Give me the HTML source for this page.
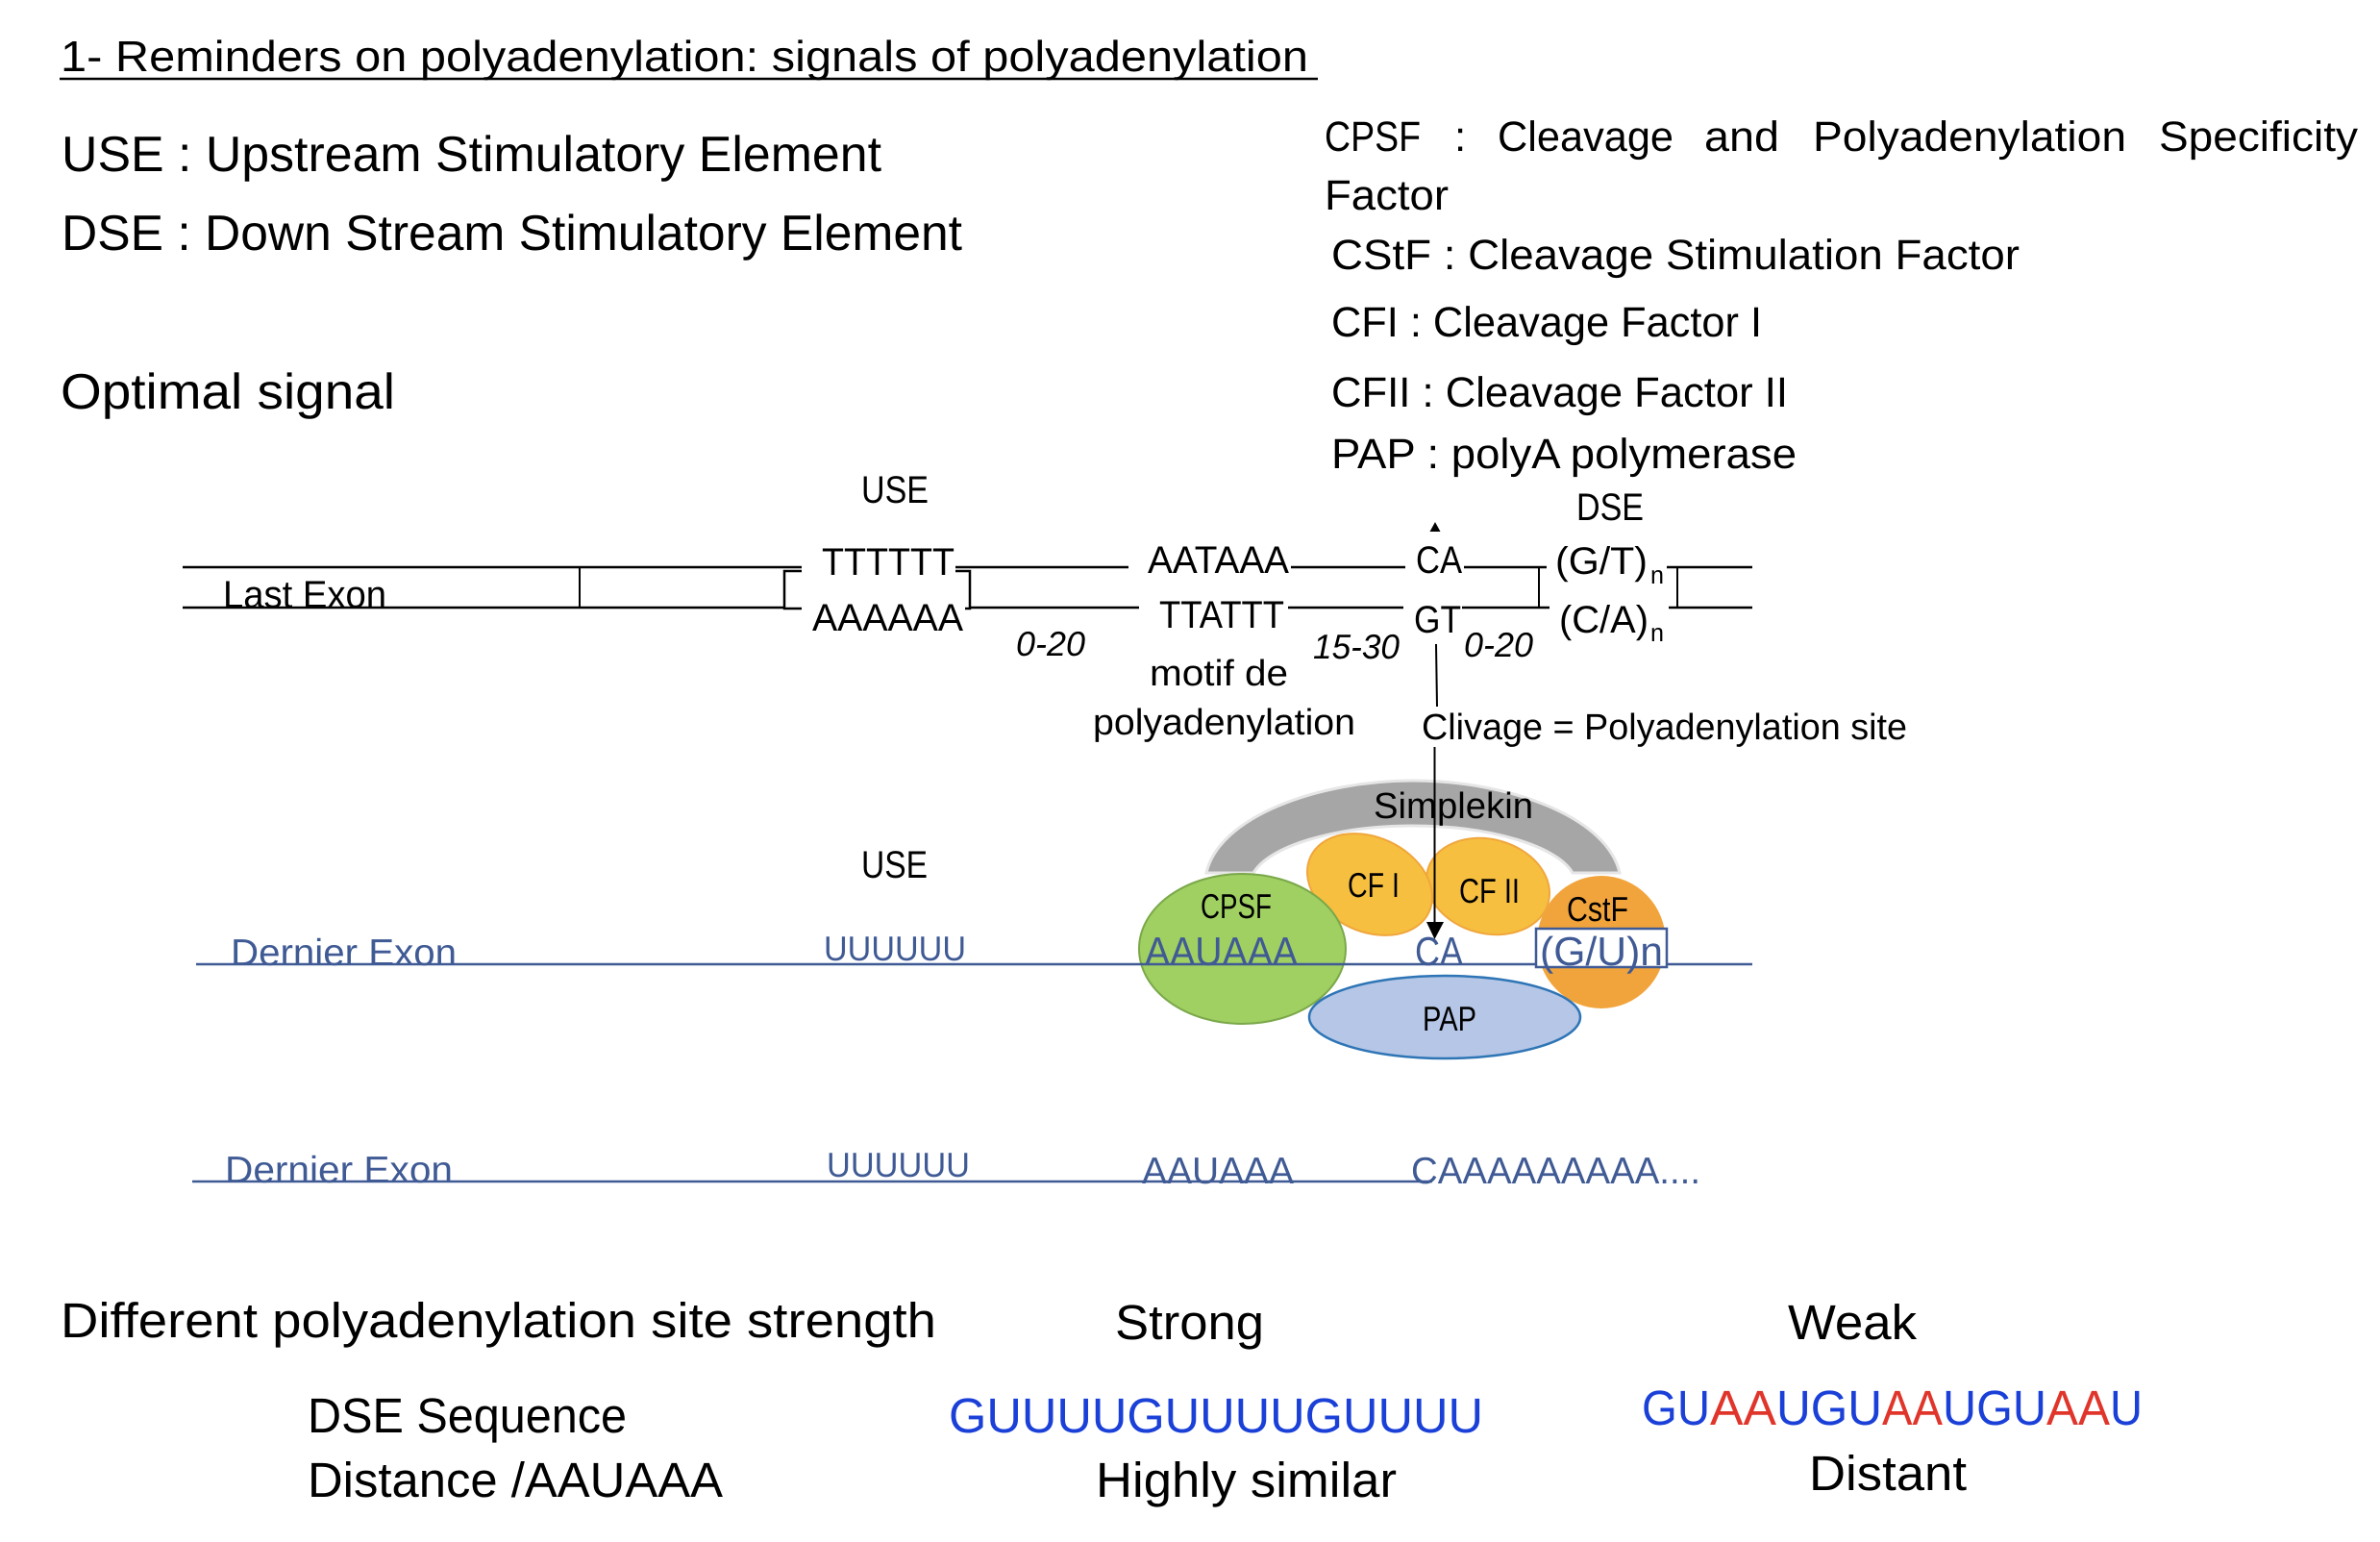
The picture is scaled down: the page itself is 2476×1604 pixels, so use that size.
<!DOCTYPE html>
<html>
<head>
<meta charset="utf-8">
<style>
html,body{margin:0;padding:0;background:#fff}
svg{display:block}
text{font-family:"Liberation Sans",sans-serif;fill:#000;text-rendering:geometricPrecision}
.b{fill:#3f5a94}
.g{fill:#1a40d8}
.r{fill:#e0352b}
.i{font-style:italic}
</style>
</head>
<body>
<svg xmlns="http://www.w3.org/2000/svg" width="2476" height="1604" viewBox="0 0 2476 1604">
<rect width="2476" height="1604" fill="#fff"/>

<!-- header -->
<text x="63" y="74" font-size="45" textLength="1298" lengthAdjust="spacingAndGlyphs">1- Reminders on polyadenylation: signals of polyadenylation</text>
<line x1="62" y1="82" x2="1371" y2="82" stroke="#000" stroke-width="2.5"/>
<text x="64" y="178" font-size="52" textLength="853" lengthAdjust="spacingAndGlyphs">USE : Upstream Stimulatory Element</text>
<text x="64" y="260" font-size="52" textLength="937" lengthAdjust="spacingAndGlyphs">DSE : Down Stream Stimulatory Element</text>
<text x="63" y="425" font-size="52" textLength="348" lengthAdjust="spacingAndGlyphs">Optimal signal</text>

<!-- legend -->
<text x="1378" y="157" font-size="44" textLength="100" lengthAdjust="spacingAndGlyphs">CPSF</text>
<text x="1513" y="157" font-size="44">:</text>
<text x="1558" y="157" font-size="44" textLength="183" lengthAdjust="spacingAndGlyphs">Cleavage</text>
<text x="1773" y="157" font-size="44" textLength="78" lengthAdjust="spacingAndGlyphs">and</text>
<text x="1886" y="157" font-size="44" textLength="326" lengthAdjust="spacingAndGlyphs">Polyadenylation</text>
<text x="2246" y="157" font-size="44" textLength="207" lengthAdjust="spacingAndGlyphs">Specificity</text>
<text x="1378" y="218" font-size="44" textLength="129" lengthAdjust="spacingAndGlyphs">Factor</text>
<text x="1385" y="280" font-size="44" textLength="716" lengthAdjust="spacingAndGlyphs">CStF  : Cleavage Stimulation Factor</text>
<text x="1385" y="350" font-size="44" textLength="448" lengthAdjust="spacingAndGlyphs">CFI : Cleavage Factor I</text>
<text x="1385" y="423" font-size="44" textLength="475" lengthAdjust="spacingAndGlyphs">CFII : Cleavage Factor II</text>
<text x="1385" y="487" font-size="44" textLength="484" lengthAdjust="spacingAndGlyphs">PAP : polyA polymerase</text>

<!-- DNA schematic lines -->
<g stroke="#000" stroke-width="2.5" fill="none">
<line x1="190" y1="590" x2="834" y2="590"/>
<line x1="190" y1="632" x2="816" y2="632"/>
<line x1="603" y1="590" x2="603" y2="632" stroke-width="2"/>
<polyline points="834,594 816,594 816,633 834,633"/>
<polyline points="994,594 1009,594 1009,633 1004,633"/>
<line x1="994" y1="590" x2="1174" y2="590"/>
<line x1="1009" y1="632" x2="1185" y2="632"/>
<line x1="1343" y1="590" x2="1462" y2="590"/>
<line x1="1340" y1="632" x2="1460" y2="632"/>
<line x1="1523" y1="590" x2="1609" y2="590"/>
<line x1="1521" y1="632" x2="1612" y2="632"/>
<line x1="1601" y1="590" x2="1601" y2="632" stroke-width="2"/>
<line x1="1734" y1="590" x2="1823" y2="590"/>
<line x1="1736" y1="632" x2="1823" y2="632"/>
<line x1="1745" y1="590" x2="1745" y2="632" stroke-width="2"/>
</g>

<text x="232" y="632" font-size="40" textLength="170" lengthAdjust="spacingAndGlyphs">Last Exon</text>
<text x="896" y="523" font-size="40" textLength="70" lengthAdjust="spacingAndGlyphs">USE</text>
<text x="855" y="598" font-size="40" textLength="138" lengthAdjust="spacingAndGlyphs">TTTTTT</text>
<text x="845" y="656" font-size="40" textLength="157" lengthAdjust="spacingAndGlyphs">AAAAAA</text>
<text x="1194" y="596" font-size="40" textLength="147" lengthAdjust="spacingAndGlyphs">AATAAA</text>
<text x="1206" y="653" font-size="40" textLength="130" lengthAdjust="spacingAndGlyphs">TTATTT</text>
<text x="1473" y="596" font-size="40" textLength="48" lengthAdjust="spacingAndGlyphs">CA</text>
<text x="1471" y="658" font-size="40" textLength="49" lengthAdjust="spacingAndGlyphs">GT</text>
<text x="1640" y="541" font-size="40" textLength="70" lengthAdjust="spacingAndGlyphs">DSE</text>
<text x="1618" y="597" font-size="40" textLength="96" lengthAdjust="spacingAndGlyphs">(G/T)</text>
<text x="1717" y="607" font-size="26" textLength="14" lengthAdjust="spacingAndGlyphs">n</text>
<text x="1622" y="658" font-size="40" textLength="93" lengthAdjust="spacingAndGlyphs">(C/A)</text>
<text x="1717" y="667" font-size="26" textLength="14" lengthAdjust="spacingAndGlyphs">n</text>
<polygon points="1493,543 1487.5,553 1498.5,553" fill="#000"/>

<text class="i" x="1057" y="682" font-size="36" textLength="72" lengthAdjust="spacingAndGlyphs">0-20</text>
<text class="i" x="1366" y="685" font-size="36" textLength="90" lengthAdjust="spacingAndGlyphs">15-30</text>
<text class="i" x="1523" y="683" font-size="36" textLength="72" lengthAdjust="spacingAndGlyphs">0-20</text>
<text x="1196" y="713" font-size="38" textLength="144" lengthAdjust="spacingAndGlyphs">motif de</text>
<text x="1137" y="764" font-size="38" textLength="273" lengthAdjust="spacingAndGlyphs">polyadenylation</text>
<text x="1479" y="769" font-size="38" textLength="505" lengthAdjust="spacingAndGlyphs">Clivage = Polyadenylation site</text>

<!-- complex -->
<text x="896" y="913" font-size="40" textLength="69" lengthAdjust="spacingAndGlyphs">USE</text>
<path d="M1255 908 C1268 850 1370 812 1470 812 C1570 812 1672 850 1685 908 L1636 908 C1620 880 1550 859 1470 859 C1390 859 1320 880 1304 908 Z" fill="#a6a6a6" stroke="#e6e6e6" stroke-width="3"/>
<ellipse cx="1666" cy="980" rx="67" ry="69" fill="#f2a43c"/>
<ellipse cx="1548" cy="922" rx="65" ry="49" transform="rotate(15 1548 922)" fill="#f6bf40" stroke="#f0a63c" stroke-width="2"/>
<ellipse cx="1425" cy="920" rx="68" ry="49" transform="rotate(25 1425 920)" fill="#f6bf40" stroke="#f0a63c" stroke-width="2"/>
<ellipse cx="1292.5" cy="987" rx="107.5" ry="78" fill="#a0cf62" stroke="#7aa84a" stroke-width="2"/>
<ellipse cx="1503" cy="1058" rx="141" ry="43" fill="#b5c6e6" stroke="#2e75b6" stroke-width="2.5"/>

<line x1="204" y1="1003" x2="1823" y2="1003" stroke="#3f5a94" stroke-width="2.5"/>
<rect x="1598" y="966" width="136" height="40" fill="#fff" stroke="#3f5a94" stroke-width="2.5"/>

<text x="1429" y="851" font-size="38" textLength="166" lengthAdjust="spacingAndGlyphs">Simplekin</text>
<text x="1249" y="955" font-size="36" textLength="74" lengthAdjust="spacingAndGlyphs">CPSF</text>
<text x="1402" y="933" font-size="36" textLength="54" lengthAdjust="spacingAndGlyphs">CF I</text>
<text x="1518" y="939" font-size="36" textLength="63" lengthAdjust="spacingAndGlyphs">CF II</text>
<text x="1630" y="958" font-size="36" textLength="64" lengthAdjust="spacingAndGlyphs">CstF</text>
<text x="1480" y="1072" font-size="36" textLength="56" lengthAdjust="spacingAndGlyphs">PAP</text>
<text class="b" x="1191" y="1004" font-size="42" textLength="159" lengthAdjust="spacingAndGlyphs">AAUAAA</text>
<text class="b" x="1472" y="1004" font-size="42" textLength="50" lengthAdjust="spacingAndGlyphs">CA</text>
<text class="b" x="1602" y="1004" font-size="42" textLength="128" lengthAdjust="spacingAndGlyphs">(G/U)n</text>
<text class="b" x="240" y="1004" font-size="39" textLength="235" lengthAdjust="spacingAndGlyphs">Dernier Exon</text>
<text class="b" x="857" y="999" font-size="36" textLength="148" lengthAdjust="spacingAndGlyphs">UUUUUU</text>

<!-- cleavage arrow -->
<line x1="1494" y1="670" x2="1495" y2="735" stroke="#000" stroke-width="2"/>
<line x1="1492.5" y1="777" x2="1492.5" y2="962" stroke="#000" stroke-width="2"/>
<polygon points="1484,959 1502,959 1492.5,977" fill="#000"/>

<!-- product -->
<line x1="200" y1="1229" x2="1490" y2="1229" stroke="#3f5a94" stroke-width="2.5"/>
<text class="b" x="234" y="1230" font-size="39" textLength="237" lengthAdjust="spacingAndGlyphs">Dernier Exon</text>
<text class="b" x="860" y="1224" font-size="36" textLength="149" lengthAdjust="spacingAndGlyphs">UUUUUU</text>
<text class="b" x="1188" y="1231" font-size="39" textLength="158" lengthAdjust="spacingAndGlyphs">AAUAAA</text>
<text class="b" x="1468" y="1231" font-size="39" textLength="301" lengthAdjust="spacingAndGlyphs">CAAAAAAAAA....</text>

<!-- bottom -->
<text x="63" y="1391" font-size="51" textLength="911" lengthAdjust="spacingAndGlyphs">Different polyadenylation site strength</text>
<text x="1160" y="1393" font-size="51" textLength="155" lengthAdjust="spacingAndGlyphs">Strong</text>
<text x="1860" y="1393" font-size="51" textLength="134" lengthAdjust="spacingAndGlyphs">Weak</text>
<text x="320" y="1490" font-size="51" textLength="332" lengthAdjust="spacingAndGlyphs">DSE Sequence</text>
<text x="320" y="1557" font-size="51" textLength="432" lengthAdjust="spacingAndGlyphs">Distance /AAUAAA</text>
<text class="g" x="987" y="1490" font-size="51" textLength="556" lengthAdjust="spacingAndGlyphs">GUUUUGUUUUGUUUU</text>
<text x="1140" y="1557" font-size="51" textLength="313" lengthAdjust="spacingAndGlyphs">Highly similar</text>
<text x="1882" y="1550" font-size="51" textLength="164" lengthAdjust="spacingAndGlyphs">Distant</text>
<text class="g" x="1708" y="1482" font-size="51" textLength="71" lengthAdjust="spacingAndGlyphs">GU</text>
<text class="r" x="1779" y="1482" font-size="51" textLength="69" lengthAdjust="spacingAndGlyphs">AA</text>
<text class="g" x="1848" y="1482" font-size="51" textLength="110" lengthAdjust="spacingAndGlyphs">UGU</text>
<text class="r" x="1958" y="1482" font-size="51" textLength="63" lengthAdjust="spacingAndGlyphs">AA</text>
<text class="g" x="2021" y="1482" font-size="51" textLength="108" lengthAdjust="spacingAndGlyphs">UGU</text>
<text class="r" x="2129" y="1482" font-size="51" textLength="66" lengthAdjust="spacingAndGlyphs">AA</text>
<text class="g" x="2195" y="1482" font-size="51" textLength="34" lengthAdjust="spacingAndGlyphs">U</text>
</svg>
</body>
</html>
